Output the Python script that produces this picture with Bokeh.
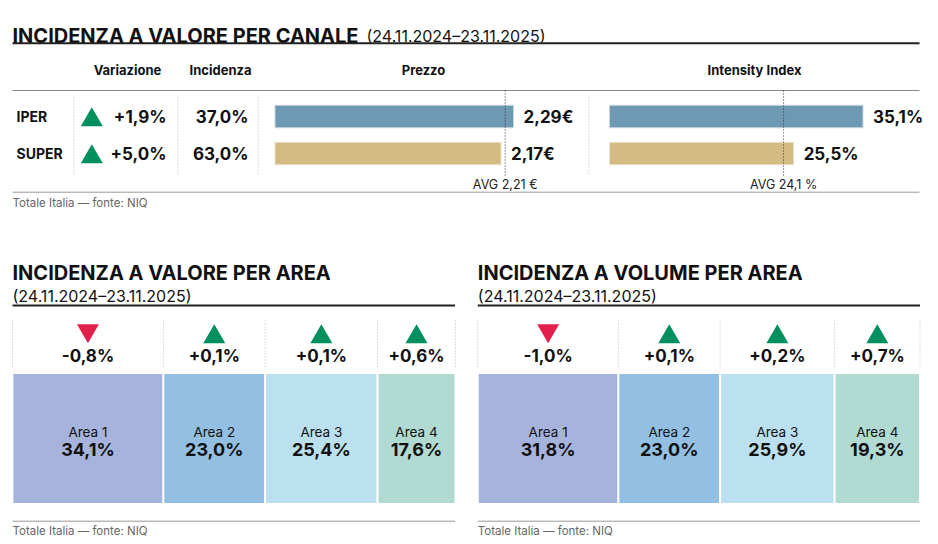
from bokeh.plotting import figure
from bokeh.models import Range1d, ColumnDataSource
from bokeh.core.properties import value
from bokeh.embed import file_html
from bokeh.resources import INLINE

# ---------------- data ----------------
canali = ["IPER", "SUPER"]
variazione = [1.9, 5.0]
incidenza = [37.0, 63.0]
prezzo = [2.29, 2.17]
intensity = [35.1, 25.5]
prezzo_avg = 2.21
intensity_avg = 24.1

aree = ["Area 1", "Area 2", "Area 3", "Area 4"]
valore_quota = [34.1, 23.0, 25.4, 17.6]
valore_var = [-0.8, 0.1, 0.1, 0.6]
volume_quota = [31.8, 23.0, 25.9, 19.3]
volume_var = [-1.0, 0.1, 0.2, 0.7]

title_top = "INCIDENZA A VALORE PER CANALE"
period = "(24.11.2024\u201323.11.2025)"
title_val = "INCIDENZA A VALORE PER AREA"
title_vol = "INCIDENZA A VOLUME PER AREA"
footer = "Totale Italia \u2014 fonte: NIQ"
headers = ["Variazione", "Incidenza", "Prezzo", "Intensity Index"]

# ---------------- style ----------------
FONT = value("Inter")
GREEN = "#00905d"
RED = "#e31f4b"
BAR_COLORS = ["#6e99b3", "#d4bb83"]
BAR_EDGES = ["#c8d8e2", "#efe4cc"]
AREA_COLORS = ["#a6b4dd", "#93bfe2", "#bbe0ef", "#b1dad3"]
TRI = 22
W, H = 930, 536
X0, Y0 = 0, 0


def it(v, sign=False, dec=1):
    s = f"{v:+.{dec}f}" if sign else f"{v:.{dec}f}"
    return s.replace(".", ",")


def lin_range(v0, p0, v1, p1):
    scale = (p1 - p0) / (v1 - v0)
    start = v0 - (p0 - X0) / scale
    return Range1d(start, start + W / scale)


p = figure(width=W, height=H, output_backend="svg", toolbar_location=None,
           x_range=Range1d(X0, X0 + W), y_range=Range1d(Y0 + H, Y0),
           x_axis_type=None, y_axis_type=None, min_border=0,
           outline_line_color=None, background_fill_color="white")
p.grid.visible = False
p.extra_x_ranges = {
    "prezzo": lin_range(0, 274.5, 2.29, 513.0),
    "intens": lin_range(0, 609.0, 35.1, 862.5),
    "tval": lin_range(0, 12.0, 100, 454.5),
    "tvol": lin_range(0, 477.3, 100, 919.5),
}


def as_list(v, n):
    return list(v) if isinstance(v, list) else [v] * n


def txt(x, y, t, size, bold=False, align="left", baseline="middle", color="#111", rn="default"):
    n = max(len(v) if isinstance(v, list) else 1 for v in (x, y, t))
    p.text(x=as_list(x, n), y=as_list(y, n), text=as_list(t, n),
           text_font=FONT, text_font_size=f"{size}px",
           text_font_style="bold" if bold else "normal",
           text_align=align, text_baseline=baseline, text_color=color,
           x_range_name=rn)


def hline(x0, x1, y, color, width):
    p.segment(x0=[x0], x1=[x1], y0=[y], y1=[y], line_color=color, line_width=width)


# ---------------- top table ----------------
row_y = [116.0, 153.0]
txt(12, 35, title_top, 20, bold=True, baseline="alphabetic")
txt(366, 35, period, 16, baseline="alphabetic")
hline(12, 919, 42.7, "#222", 2)
for h, hx in zip(headers, [127, 220, 423, 754]):
    txt(hx, 69, h, 13, bold=True, align="center")
hline(12, 919, 90, "#888", 1.2)

for sx in [73.3, 177.3, 257.7, 588.3]:
    p.segment(x0=[sx], x1=[sx], y0=[97], y1=[173], line_color="#bbbbbb", line_width=1, line_dash="1 2")

txt(16, row_y, canali, 14, bold=True)
tri_col = [GREEN if v >= 0 else RED for v in variazione]
tri_mark = ["triangle" if v >= 0 else "inverted_triangle" for v in variazione]
p.scatter(x=[91.3] * 2, y=[ry + 3.5 for ry in row_y], marker=tri_mark, size=TRI,
          fill_color=tri_col, line_color=None)
txt(166, row_y, [it(v, True) + "%" for v in variazione], 17, bold=True, align="right")
txt(248, row_y, [it(v) + "%" for v in incidenza], 17, bold=True, align="right")

src_p = ColumnDataSource(dict(y=row_y, r=prezzo, c=BAR_COLORS, e=BAR_EDGES,
                              lab=[it(v, dec=2) + "\u20ac" for v in prezzo]))
p.hbar(y="y", left=0, right="r", height=22.5, fill_color="c", line_color="e", line_width=1,
       source=src_p, x_range_name="prezzo")
p.text(x="r", y="y", text="lab", x_offset=10, source=src_p, x_range_name="prezzo",
       text_font=FONT, text_font_size="17px", text_font_style="bold",
       text_baseline="middle", text_color="#111")
p.segment(x0=[prezzo_avg], x1=[prezzo_avg], y0=[90], y1=[176], line_color="#333",
          line_width=1, line_dash="1 2", x_range_name="prezzo")
txt(prezzo_avg, 184, "AVG " + it(prezzo_avg, dec=2) + " \u20ac", 12.5, align="center", color="#222", rn="prezzo")

src_i = ColumnDataSource(dict(y=row_y, r=intensity, c=BAR_COLORS, e=BAR_EDGES,
                              lab=[it(v) + "%" for v in intensity]))
p.hbar(y="y", left=0, right="r", height=22.5, fill_color="c", line_color="e", line_width=1,
       source=src_i, x_range_name="intens")
p.text(x="r", y="y", text="lab", x_offset=10, source=src_i, x_range_name="intens",
       text_font=FONT, text_font_size="17px", text_font_style="bold",
       text_baseline="middle", text_color="#111")
p.segment(x0=[intensity_avg], x1=[intensity_avg], y0=[90], y1=[176], line_color="#333",
          line_width=1, line_dash="1 2", x_range_name="intens")
txt(intensity_avg, 184, "AVG " + it(intensity_avg) + " %", 12.5, align="center", color="#222", rn="intens")

hline(12, 919, 191.7, "#999", 1)
txt(12, 202, footer, 11.5, color="#666")


# ---------------- treemaps ----------------
def panel(px0, px1, title, quota, var, rn):
    txt(px0, 272.7, title, 20, bold=True, baseline="alphabetic")
    txt(px0, 295, period, 16, baseline="alphabetic")
    hline(px0, px1, 305, "#222", 2)
    edges = [0.0]
    for q in quota:
        edges.append(edges[-1] + q)
    left, right = edges[:-1], edges[1:]
    mid = [(a + b) / 2 for a, b in zip(left, right)]
    p.segment(x0=edges, x1=edges, y0=[320] * len(edges), y1=[367] * len(edges),
              line_color="#bbbbbb", line_width=1, line_dash="1 2", x_range_name=rn)
    cols = [GREEN if v >= 0 else RED for v in var]
    marks = ["triangle" if v >= 0 else "inverted_triangle" for v in var]
    ys = [336.5 if v >= 0 else 330.0 for v in var]
    p.scatter(x=mid, y=ys, marker=marks, size=TRI, fill_color=cols, line_color=None, x_range_name=rn)
    txt(mid, 355, [it(v, True) + "%" if v >= 0 else it(v) + "%" for v in var], 17,
        bold=True, align="center", rn=rn)
    p.quad(left=left, right=right, top=[372.7] * 4, bottom=[503.3] * 4, fill_color=AREA_COLORS,
           line_color="white", line_width=1.8, x_range_name=rn)
    txt(mid, 431, aree, 13.5, align="center", rn=rn)
    txt(mid, 449, [it(q) + "%" for q in quota], 18, bold=True, align="center", rn=rn)
    hline(px0, px1, 520.7, "#999", 1)
    txt(px0, 530, footer, 11.5, color="#666")


panel(12, 454.5, title_val, valore_quota, valore_var, "tval")
panel(477.3, 919.5, title_vol, volume_quota, volume_var, "tvol")

open("out.html", "w").write(file_html(p, INLINE))
